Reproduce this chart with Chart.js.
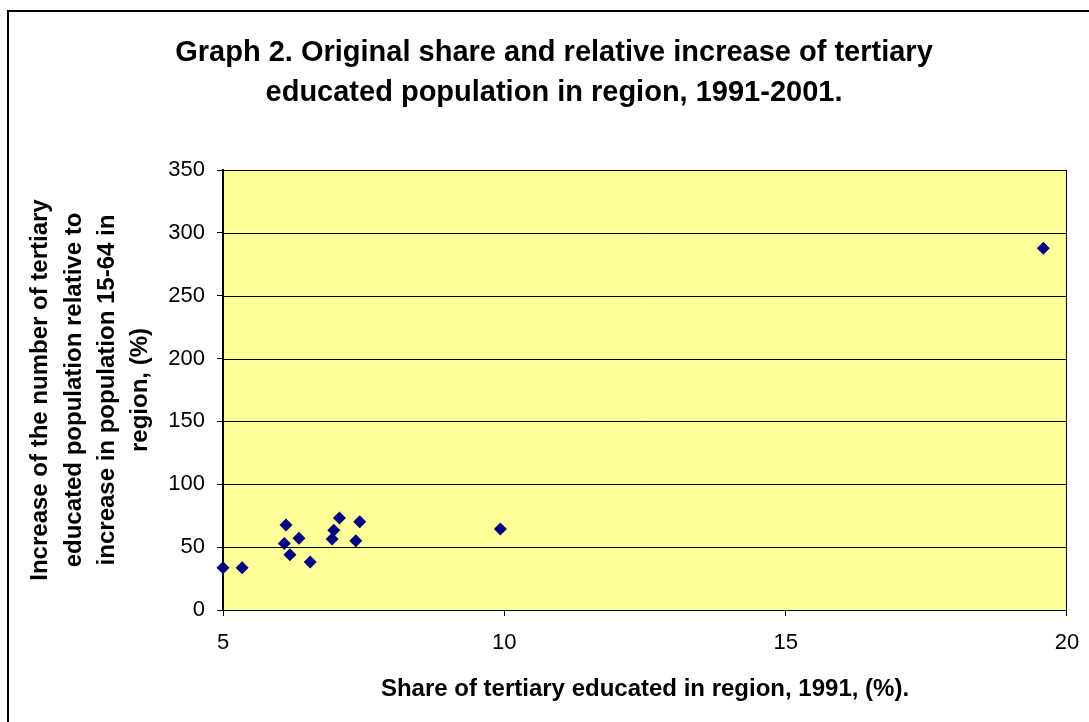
<!DOCTYPE html>
<html lang="en">
<head>
    <meta charset="UTF-8">
    <title>Graph 2</title>
    <script src="https://cdn.jsdelivr.net/npm/chart.js"></script>
    <style>
        body { margin: 0; background: #ffffff; }
        .wrap { width: 1089px; height: 722px; }
    </style>
</head>
<body>
<div class="wrap"><canvas id="chart" width="1089" height="722"></canvas></div>
<script>
    // Share of tertiary educated 1991 (%) and relative increase (%)
    const shareX = [5.0, 5.34, 6.12, 6.09, 6.19, 6.35, 6.55, 6.94, 6.97, 7.07, 7.36, 7.43, 9.93, 19.58];
    const increaseY = [33.7, 33.7, 67.6, 52.8, 44.0, 57.0, 38.2, 56.5, 63.4, 73.2, 55.1, 70.2, 64.4, 287.7];
    const xTicks = [5, 10, 15, 20];
    const yTicks = [0, 50, 100, 150, 200, 250, 300, 350];
    const titleLines = ['Graph 2. Original share and relative increase of tertiary',
                        'educated population in region, 1991-2001.'];

    const points = shareX.map((x, i) => ({ x: x, y: increaseY[i] }));

    // plot area taken from the scales' own value mapping
    function plotBox(chart) {
        const xs = chart.scales.x, ys = chart.scales.y;
        return {
            left: xs.getPixelForValue(xs.min),
            right: xs.getPixelForValue(xs.max),
            top: ys.getPixelForValue(ys.max),
            bottom: ys.getPixelForValue(ys.min)
        };
    }

    // yellow plot background, gridlines, borders, outer frame and the chart title
    const frame = {
        id: 'frame',
        beforeDraw(chart) {
            const ctx = chart.ctx;
            const a = plotBox(chart);
            ctx.save();
            ctx.fillStyle = '#ffffff';
            ctx.fillRect(0, 0, chart.width, chart.height);
            ctx.fillStyle = '#ffff99';
            ctx.fillRect(a.left, a.top, a.right - a.left, a.bottom - a.top);
            ctx.restore();
        },
        beforeDatasetsDraw(chart) {
            const ctx = chart.ctx;
            const a = plotBox(chart);
            ctx.save();
            ctx.strokeStyle = '#000000';
            ctx.lineWidth = 1;
            yTicks.forEach(v => {
                const y = Math.round(chart.scales.y.getPixelForValue(v)) + 0.5;
                ctx.beginPath();
                ctx.moveTo(a.left, y);
                ctx.lineTo(a.right, y);
                ctx.stroke();
            });
            ctx.strokeRect(a.left + 0.5, a.top + 0.5, a.right - a.left - 1, a.bottom - a.top);
            ctx.restore();
        },
        afterDraw(chart) {
            const ctx = chart.ctx;
            ctx.save();
            ctx.strokeStyle = '#000000';
            ctx.lineWidth = 2;
            ctx.strokeRect(8, 11, chart.width + 20, chart.height + 20);
            ctx.fillStyle = '#000000';
            ctx.font = 'bold 29px "Liberation Sans"';
            ctx.textAlign = 'center';
            ctx.textBaseline = 'middle';
            titleLines.forEach((t, i) => ctx.fillText(t, 554, 53 + i * 40));
            ctx.restore();
        }
    };

    new Chart(document.getElementById('chart'), {
        type: 'scatter',
        data: {
            datasets: [{
                data: points,
                clip: false,
                pointStyle: 'rectRot',
                pointRadius: 6.5,
                pointHoverRadius: 6.5,
                backgroundColor: '#000080',
                borderColor: '#000080',
                borderWidth: 0
            }]
        },
        options: {
            responsive: false,
            animation: false,
            layout: { padding: { left: 0, right: 0, top: 170, bottom: 0 } },
            plugins: {
                legend: { display: false },
                tooltip: { enabled: false },
                title: { display: false }
            },
            scales: {
                x: {
                    type: 'linear',
                    min: 5,
                    max: 20,
                    afterBuildTicks: s => { s.ticks = xTicks.map(v => ({ value: v })); },
                    afterFit: s => { s.height = 112; },
                    grid: { display: true, drawOnChartArea: false, drawTicks: true, tickLength: 6, color: '#000000' },
                    border: { display: false },
                    ticks: { color: '#000000', padding: 9.8, maxRotation: 0, font: { family: 'Liberation Sans', size: 22, lineHeight: 1.55 } },
                    title: {
                        display: true,
                        text: 'Share of tertiary educated in region, 1991, (%).',
                        color: '#000000',
                        font: { family: 'Liberation Sans', size: 24, weight: 'bold', lineHeight: 1.2 },
                        padding: { top: 0, bottom: 18 }
                    }
                },
                y: {
                    type: 'linear',
                    min: 0,
                    max: 350,
                    afterBuildTicks: s => { s.ticks = yTicks.map(v => ({ value: v })); },
                    afterFit: s => { s.width = 223; },
                    grid: { color: '#000000', tickLength: 6, drawTicks: true, drawOnChartArea: false },
                    border: { display: true, color: '#000000', width: 2 },
                    ticks: { color: '#000000', padding: 12, font: { family: 'Liberation Sans', size: 22 } },
                    title: {
                        display: true,
                        text: ['Increase of the number of tertiary',
                               'educated population relative to',
                               'increase in population 15-64 in',
                               'region, (%)'],
                        color: '#000000',
                        font: { family: 'Liberation Sans', size: 24, weight: 'bold', lineHeight: 1.39 },
                        padding: { top: 24, bottom: 0 }
                    }
                }
            }
        },
        plugins: [frame]
    });
</script>
</body>
</html>
